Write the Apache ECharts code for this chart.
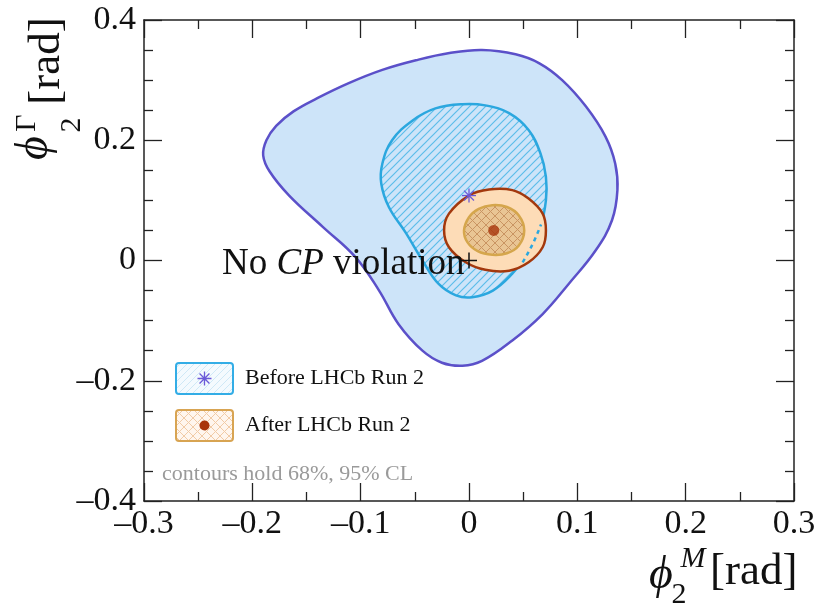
<!DOCTYPE html>
<html><head><meta charset="utf-8">
<script src="https://cdn.jsdelivr.net/npm/echarts@6/dist/echarts.min.js"></script>
<style>html,body{margin:0;padding:0;background:#fff}#c{width:830px;height:607px}</style>
</head><body><div id="c"></div>
<script>
// ---- data (phi2^M, phi2^Gamma) in rad ----
const xRange = [-0.3, 0.3];
const yRange = [-0.4, 0.4];
const before95 = [[0.012,0.350],[-0.018,0.345],[-0.049,0.333],[-0.080,0.317],[-0.111,0.295],[-0.140,0.270],[-0.162,0.248],[-0.178,0.224],[-0.187,0.200],[-0.190,0.175],[-0.184,0.148],[-0.166,0.108],[-0.135,0.056],[-0.105,0.006],[-0.083,-0.050],[-0.065,-0.106],[-0.043,-0.150],[-0.025,-0.170],[-0.006,-0.175],[0.012,-0.167],[0.040,-0.133],[0.068,-0.089],[0.092,-0.039],[0.117,0.017],[0.132,0.067],[0.137,0.117],[0.135,0.161],[0.126,0.206],[0.108,0.256],[0.086,0.300],[0.065,0.328],[0.043,0.343]];
const before68 = [[-0.006,0.260],[-0.031,0.253],[-0.052,0.233],[-0.071,0.200],[-0.080,0.161],[-0.081,0.128],[-0.074,0.089],[-0.058,0.045],[-0.043,0.000],[-0.028,-0.039],[-0.012,-0.058],[0.003,-0.061],[0.022,-0.050],[0.040,-0.022],[0.052,0.006],[0.066,0.058],[0.071,0.100],[0.071,0.139],[0.066,0.178],[0.055,0.217],[0.037,0.245],[0.015,0.258]];
const before68Covered = [[0.0495,-0.003],[0.0523,0.0055],[0.060,0.032],[0.0665,0.060]];
const after95 = [[0.000,0.108],[-0.0185,0.078],[-0.023,0.050],[-0.0185,0.022],[-0.003,-0.003],[0.015,-0.0155],[0.037,-0.017],[0.055,-0.003],[0.068,0.022],[0.071,0.050],[0.068,0.078],[0.055,0.103],[0.040,0.117],[0.0185,0.118]];
const after68 = [[-0.0046,0.050],[0.000,0.072],[0.009,0.086],[0.0215,0.092],[0.035,0.089],[0.046,0.075],[0.051,0.050],[0.046,0.025],[0.035,0.012],[0.0215,0.0095],[0.008,0.0155],[-0.0015,0.0305]];
const beforeBest = [0.000, 0.108];
const afterBest = [0.0228, 0.050];
const noCPV = [0, 0];
const seriesNames = ['Before LHCb Run 2', 'After LHCb Run 2'];

const SERIF = "'Liberation Serif','Times New Roman',serif";

function hatchCanvas(size, bg, color, both, lw) {
  const c = document.createElement('canvas');
  c.width = size; c.height = size;
  const g = c.getContext('2d');
  if (bg) { g.fillStyle = bg; g.fillRect(0,0,size,size); }
  g.strokeStyle = color; g.lineWidth = lw || 1;
  g.beginPath();
  g.moveTo(-1, size+1); g.lineTo(size+1, -1);
  g.moveTo(-1, 1); g.lineTo(1, -1);
  g.moveTo(size-1, size+1); g.lineTo(size+1, size-1);
  if (both) {
    g.moveTo(-1, -1); g.lineTo(size+1, size+1);
    g.moveTo(size-1, -1); g.lineTo(size+1, 1);
    g.moveTo(-1, size-1); g.lineTo(1, size+1);
  }
  g.stroke();
  return c;
}
const hatchBlue = hatchCanvas(8, '#cde4f9', '#5cbdea', false, 1.2);
const hatchOrange = hatchCanvas(9, null, '#c99462', true, 1);

function legendIcon(kind) {
  const W = 59, H = 33;
  const c = document.createElement('canvas');
  c.width = W; c.height = H;
  const g = c.getContext('2d');
  const r = 3;
  function rr() {
    g.beginPath();
    g.moveTo(1+r,1); g.lineTo(W-1-r,1); g.quadraticCurveTo(W-1,1,W-1,1+r);
    g.lineTo(W-1,H-1-r); g.quadraticCurveTo(W-1,H-1,W-1-r,H-1);
    g.lineTo(1+r,H-1); g.quadraticCurveTo(1,H-1,1,H-1-r);
    g.lineTo(1,1+r); g.quadraticCurveTo(1,1,1+r,1); g.closePath();
  }
  rr();
  g.fillStyle = kind === 0 ? '#f4fafe' : '#fff6ee';
  g.fill();
  g.save(); rr(); g.clip();
  const pat = g.createPattern(kind === 0 ? hatchCanvas(7,null,'#cfe8f6',false) : hatchCanvas(9,null,'#f1cba6',true), 'repeat');
  g.fillStyle = pat; g.fillRect(0,0,W,H);
  g.restore();
  rr();
  g.lineWidth = 2; g.strokeStyle = kind === 0 ? '#33ade6' : '#d8a452'; g.stroke();
  if (kind === 0) {
    g.strokeStyle = '#6b5ad8'; g.lineWidth = 1.3;
    const cx = W/2, cy = H/2, s = 7;
    g.beginPath();
    for (let k = 0; k < 4; k++) {
      const a = k*Math.PI/4;
      g.moveTo(cx - s*Math.cos(a), cy - s*Math.sin(a));
      g.lineTo(cx + s*Math.cos(a), cy + s*Math.sin(a));
    }
    g.stroke();
  } else {
    g.fillStyle = '#a8340b';
    g.beginPath(); g.arc(W/2, H/2, 5, 0, Math.PI*2); g.fill();
  }
  return c.toDataURL();
}

function polySeries(name, points, layers, z) {
  return {
    type: 'custom', name: name, z: z, data: points, silent: true,
    renderItem: function (params, api) {
      if (params.dataIndex !== 0) return null;
      const pts = points.map(p => api.coord(p));
      return {
        type: 'group',
        children: layers.map(st => ({ type: 'polygon', shape: { points: pts, smooth: 0.4 }, style: st }))
      };
    }
  };
}

const chart = echarts.init(document.getElementById('c'), null, { renderer: 'canvas' });

function fmt(v) {
  if (Math.abs(v) < 1e-9) return '0';
  return (v < 0 ? '\u2013' : '') + Math.abs(v).toFixed(1);
}

const axisCommon = {
  axisLine: { show: true, onZero: false, lineStyle: { color: '#222', width: 1.5 } },
  axisTick: { show: true, inside: true, length: 18, lineStyle: { color: '#222', width: 1.3 } },
  minorTick: { show: true, length: 9, lineStyle: { color: '#222', width: 1.3 } },
  splitLine: { show: false }
};

const centered = { align: 'center', verticalAlign: 'middle', textAlign: 'center', textVerticalAlign: 'middle', fill: '#111' };

const option = {
  backgroundColor: '#fff',
  animation: false,
  grid: { left: 144, right: 36, top: 20, bottom: 106 },
  legend: {
    orient: 'vertical', left: 175, top: 362, padding: 0,
    itemWidth: 59, itemHeight: 33, itemGap: 14, selectedMode: false,
    textStyle: { fontFamily: SERIF, fontSize: 22, color: '#111', padding: [0, 0, 0, 6] },
    data: [
      { name: seriesNames[0], icon: 'image://' + legendIcon(0) },
      { name: seriesNames[1], icon: 'image://' + legendIcon(1) }
    ]
  },
  xAxis: [
    Object.assign({}, axisCommon, {
      type: 'value', min: xRange[0], max: xRange[1], interval: 0.1, position: 'bottom',
      minorTick: Object.assign({}, axisCommon.minorTick, { splitNumber: 2 }),
      axisLabel: { margin: 6, fontFamily: SERIF, fontSize: 34, color: '#111', formatter: fmt }
    }),
    Object.assign({}, axisCommon, {
      type: 'value', min: xRange[0], max: xRange[1], interval: 0.1, position: 'top',
      minorTick: Object.assign({}, axisCommon.minorTick, { splitNumber: 2 }),
      axisLabel: { show: false }
    })
  ],
  yAxis: [
    Object.assign({}, axisCommon, {
      type: 'value', min: yRange[0], max: yRange[1], interval: 0.2, position: 'left',
      minorTick: Object.assign({}, axisCommon.minorTick, { splitNumber: 4 }),
      axisLabel: { margin: 8, fontFamily: SERIF, fontSize: 34, color: '#111', formatter: fmt }
    }),
    Object.assign({}, axisCommon, {
      type: 'value', min: yRange[0], max: yRange[1], interval: 0.2, position: 'right',
      minorTick: Object.assign({}, axisCommon.minorTick, { splitNumber: 4 }),
      axisLabel: { show: false }
    })
  ],
  series: [
    polySeries(seriesNames[0], before95, [{ fill: '#cde4f9', stroke: '#5b50c9', lineWidth: 2.5 }], 2),
    polySeries(seriesNames[0], before68, [{ fill: { image: hatchBlue, repeat: 'repeat' }, stroke: '#2ba7df', lineWidth: 2.5 }], 3),
    polySeries(seriesNames[1], after95, [{ fill: '#fddcb7', stroke: '#a3380d', lineWidth: 2.5 }], 4),
    polySeries(seriesNames[1], after68, [{ fill: '#e9c594' }, { fill: { image: hatchOrange, repeat: 'repeat' }, stroke: '#d5a64c', lineWidth: 2.5 }], 5),
    {
      type: 'custom', z: 6, data: before68Covered, silent: true,
      renderItem: function (params, api) {
        if (params.dataIndex !== 0) return null;
        const pts = before68Covered.map(p => api.coord(p));
        return { type: 'polyline', shape: { points: pts, smooth: 0.4 }, style: { fill: null, stroke: '#2ba7df', lineWidth: 2.5, lineDash: [4, 4] } };
      }
    },
    {
      type: 'custom', z: 7, data: [beforeBest], silent: true,
      renderItem: function (params, api) {
        const c = api.coord(beforeBest);
        const s = 7, ch = [];
        for (let k = 0; k < 4; k++) {
          const a = k * Math.PI / 4;
          ch.push({ type: 'line', shape: { x1: c[0] - s * Math.cos(a), y1: c[1] - s * Math.sin(a), x2: c[0] + s * Math.cos(a), y2: c[1] + s * Math.sin(a) }, style: { stroke: '#6b5ad8', lineWidth: 1.3 } });
        }
        return { type: 'group', children: ch };
      }
    },
    {
      type: 'scatter', z: 7, data: [afterBest], symbol: 'circle', symbolSize: 11, silent: true,
      itemStyle: { color: '#a8340b' }
    },
    {
      type: 'custom', z: 8, data: [noCPV], silent: true,
      renderItem: function (params, api) {
        const c = api.coord(noCPV);
        const s = 8;
        return { type: 'group', children: [
          { type: 'line', shape: { x1: c[0] - s, y1: c[1], x2: c[0] + s, y2: c[1] }, style: { stroke: '#111', lineWidth: 1.5 } },
          { type: 'line', shape: { x1: c[0], y1: c[1] - s, x2: c[0], y2: c[1] + s }, style: { stroke: '#111', lineWidth: 1.5 } }
        ] };
      }
    }
  ],
  graphic: [
    { type: 'text', left: 222, top: 246, z: 100, silent: true,
      style: { text: 'No {i|CP} violation', font: '37px ' + SERIF, fill: '#111',
        rich: { i: { fontStyle: 'italic', fontSize: 37, fontFamily: SERIF, color: '#111' } } } },
    { type: 'text', left: 162, top: 463, z: 100, silent: true,
      style: { text: 'contours hold 68%, 95% CL', font: '22px ' + SERIF, fill: '#9a9a9a' } },
    // x-axis title
    { type: 'text', x: 661, y: 576, z: 100, silent: true,
      style: Object.assign({ text: '\u03d5', font: 'italic 46px ' + SERIF }, centered) },
    { type: 'text', x: 693, y: 559, z: 100, silent: true,
      style: Object.assign({ text: 'M', font: 'italic 30px ' + SERIF }, centered) },
    { type: 'text', x: 679, y: 595, z: 100, silent: true,
      style: Object.assign({ text: '2', font: '30px ' + SERIF }, centered) },
    { type: 'text', x: 710, y: 572, z: 100, silent: true,
      style: { text: '[rad]', font: '45px ' + SERIF, fill: '#111', align: 'left', verticalAlign: 'middle', textAlign: 'left', textVerticalAlign: 'middle' } },
    // y-axis title (rotated)
    { type: 'text', x: 35, y: 148, rotation: Math.PI / 2, z: 100, silent: true,
      style: Object.assign({ text: '\u03d5', font: 'italic 46px ' + SERIF }, centered) },
    { type: 'text', x: 27, y: 123, rotation: Math.PI / 2, z: 100, silent: true,
      style: Object.assign({ text: '\u0393', font: '30px ' + SERIF }, centered) },
    { type: 'text', x: 72, y: 125, rotation: Math.PI / 2, z: 100, silent: true,
      style: Object.assign({ text: '2', font: '30px ' + SERIF }, centered) },
    { type: 'text', x: 47, y: 61, rotation: Math.PI / 2, z: 100, silent: true,
      style: Object.assign({ text: '[rad]', font: '45px ' + SERIF }, centered) }
  ]
};
chart.setOption(option);
</script>
</body></html>
